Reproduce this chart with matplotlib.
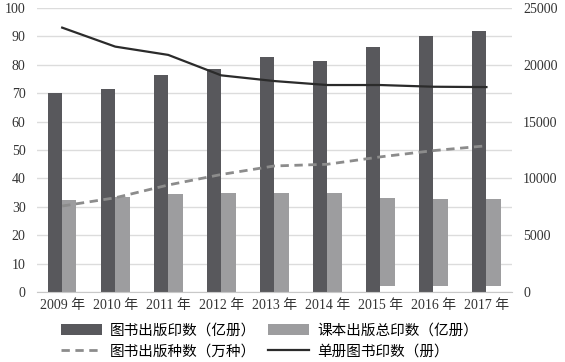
import matplotlib.pyplot as plt
import numpy as np

# Data
years = ["2009 年", "2010 年", "2011 年", "2012 年", "2013 年",
         "2014 年", "2015 年", "2016 年", "2017 年"]
book_prints = [70.2, 71.4, 76.5, 78.6, 82.6, 81.2, 86.1, 90.1, 91.8]        # 亿册
textbook_prints = [32.3, 33.6, 34.4, 35.0, 35.0, 34.9, 33.3, 32.9, 32.9]    # 亿册
textbook_base = [0, 0, 0, 0, 0, 0, 2.1, 2.1, 2.1]
book_titles = [30.3, 33.2, 37.7, 41.4, 44.4, 45.0, 47.6, 49.8, 51.5]        # 万种
prints_per_title = [23270, 21600, 20870, 19070, 18570, 18220, 18220, 18070, 18040]  # 册

plt.rcParams["font.family"] = ["Liberation Serif", "Noto Sans CJK SC"]

fig = plt.figure(figsize=(5.65, 3.62), dpi=100)
ax = fig.add_axes([0.065, 0.193, 0.841, 0.785])
ax2 = ax.twinx()

x = np.arange(len(years))
w = 0.27
dark = "#58585c"
light = "#9d9d9f"

b1 = ax.bar(x - w / 2, book_prints, width=w, color=dark, zorder=2,
            label="图书出版印数（亿册）")
b2 = ax.bar(x + w / 2, np.array(textbook_prints) - np.array(textbook_base),
            bottom=textbook_base, width=w, color=light, zorder=2,
            label="课本出版总印数（亿册）")
l1, = ax.plot(x, book_titles, color="#8c8c8c", lw=2, ls=(0, (3, 2)),
              zorder=3, label="图书出版种数（万种）")
l2, = ax2.plot(x, prints_per_title, color="#2b2b2b", lw=1.6, zorder=3,
               label="单册图书印数（册）")

ax.set_ylim(0, 100)
ax.set_yticks(range(0, 101, 10))
ax2.set_ylim(0, 25000)
ax2.set_yticks(range(0, 25001, 5000))
ax.set_xlim(-0.48, 8.48)
ax.set_xticks(x)
ax.set_xticklabels(years)

ax.grid(axis="y", color="#dcdcdc", lw=1, zorder=0)
for a in (ax, ax2):
    for s in a.spines.values():
        s.set_visible(False)
    a.tick_params(length=0, labelsize=10, colors="#333333")
ax.spines["bottom"].set_visible(True)
ax.spines["bottom"].set_color("#c8c8c8")
ax.tick_params(axis="y", pad=8)
ax.tick_params(axis="x", pad=5)
ax2.tick_params(axis="y", pad=8)

ax.legend(handles=[b1, l1, b2, l2], ncol=2, loc="upper center",
          bbox_to_anchor=(0.49, -0.075), frameon=False,
          handlelength=2.8, handleheight=0.75, handletextpad=0.55,
          columnspacing=0.8, labelspacing=0.45, borderpad=0.2,
          prop={"family": ["Noto Sans CJK SC"], "size": 10.5})

plt.savefig("out.png", dpi=100)
